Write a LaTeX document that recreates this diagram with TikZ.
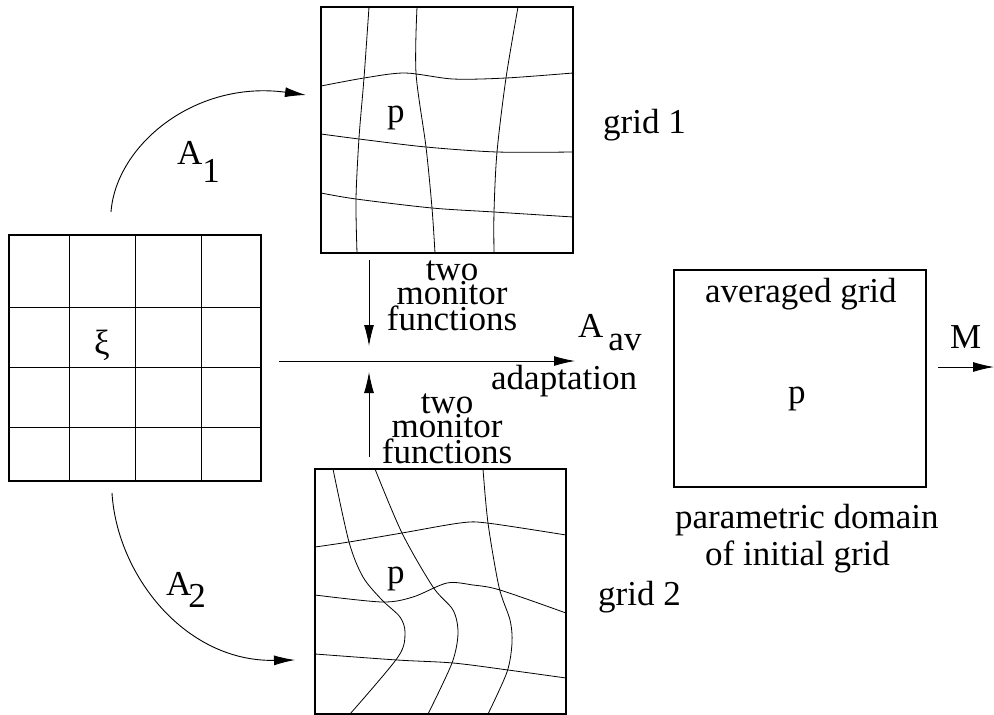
\documentclass[tikz,border=0pt]{standalone}
\usepackage{fontspec}
\setmainfont{Liberation Serif}
\usetikzlibrary{arrows.meta,positioning}

\tikzset{
  frame/.style={line width=1.2pt},
  gridline/.style={line width=0.8pt},
  conn/.style={line width=0.9pt,->},
  lbl/.style={inner sep=0pt, font=\fontsize{35pt}{24pt}\selectfont},
}

\begin{document}
\begin{tikzpicture}[x=1pt,y=-1pt,>={Latex[length=21pt,width=10pt]}]
    \useasboundingbox (0,0) rectangle (994,715);

    % uniform grid
    \draw[frame] (9,235) rectangle (261,481);
    \foreach \x in {69,135,201} \draw[gridline] (\x,235) -- (\x,481);
    \foreach \y in {307,367,427} \draw[gridline] (9,\y) -- (261,\y);
    \node[lbl] (xi) at (102,345) {ξ};

    % grid 1
    \draw[frame] (321,7) rectangle (573,253);
    \draw[gridline] plot[smooth] coordinates {(369,7) (364,78) (359,138) (356,199) (357,253)};
    \draw[gridline] plot[smooth] coordinates {(417,7) (416,73) (426,147) (432,208) (435,253)};
    \draw[gridline] plot[smooth] coordinates {(518,7) (506,78) (497,152) (494,212) (494,253)};
    \draw[gridline] plot[smooth] coordinates {(321,86) (364,78) (405,73) (453,79) (506,78) (573,73)};
    \draw[gridline] plot[smooth] coordinates {(321,134) (359,139) (426,147) (497,152) (573,152)};
    \draw[gridline] plot[smooth] coordinates {(321,193) (356,199) (432,208) (494,212) (573,217)};
    \node[lbl,anchor=base west] (p1) at (387,122) {p};
    \node[lbl,anchor=base west] (g1) at (603,133) {grid 1};

    % grid 2
    \draw[frame] (315,469) rectangle (566,714);
    \draw[gridline] plot[smooth] coordinates {(333,469) (349,542) (363,577) (382,600) (400,617) (405,633) (398,657) (350,714)};
    \draw[gridline] plot[smooth] coordinates {(375,469) (402,533) (433,587) (453,610) (458,633) (452,663) (428,714)};
    \draw[gridline] plot[smooth] coordinates {(483,469) (488,523) (499,587) (510,620) (512,643) (507,672) (488,714)};
    \draw[gridline] plot[smooth] coordinates {(315,547) (349,542) (402,533) (460,523) (487,523) (566,535)};
    \draw[gridline] plot[smooth] coordinates {(315,595) (382,602) (413,597) (447,583) (473,585) (500,590) (566,613)};
    \draw[gridline] plot[smooth] coordinates {(315,654) (397,660) (453,663) (508,670) (566,678)};
    \node[lbl,anchor=base west] (p2) at (387,583) {p};
    \node[lbl,anchor=base west] (g2) at (598,605) {grid 2};

    % averaged grid
    \draw[frame] (674,270) rectangle (926,487);
    \node[lbl,anchor=base west] (avg) at (705,302) {averaged grid};
    \node[lbl,anchor=base west] (p3) at (788,403) {p};
    \node[lbl,anchor=base west] (dom) at (675,528) {parametric domain};
    \node[lbl,anchor=base west] (ini) at (705,565) {of initial grid};

    % maps
    \coordinate (a1s) at (111,212);
    \coordinate (a1e) at (306,95);
    \coordinate (a2s) at (112,493);
    \coordinate (a2e) at (295,660);
    \draw[conn] (a1s) .. controls (116,145) and (195,80) .. (a1e);
    \draw[conn] (a2s) .. controls (117,575) and (185,662) .. (a2e);
    \node[lbl,anchor=base west] (A1) at (177,164) {A\raisebox{-18pt}{1}};
    \node[lbl,anchor=base west] (A2) at (166,595) {A\kern-3pt\raisebox{-12pt}{2}};

    \coordinate (ad1) at (279,361);
    \coordinate (ad2) at (575,361);
    \draw[conn] (ad1) -- (ad2);
    \node[lbl,anchor=base west] (Aav) at (578,337) {A\kern5pt\raisebox{-13pt}{av}};
    \node[lbl,anchor=base west] (adapt) at (491,389) {adaptation};

    \coordinate (mf1) at (369,260);
    \coordinate (mf1e) at (369,346);
    \coordinate (mf2) at (369,457);
    \coordinate (mf2e) at (369,372);
    \draw[conn] (mf1) -- (mf1e);
    \draw[conn] (mf2) -- (mf2e);
    \node[lbl,align=center] (mon1) at (452,296) {two\\monitor\\functions};
    \node[lbl,align=center,font=\fontsize{35pt}{22.5pt}\selectfont] (mon2) at (447,429) {two\\monitor\\functions};

    \coordinate (ms) at (938,367);
    \coordinate (me) at (994,367);
    \draw[conn] (ms) -- (me);
    \node[lbl,anchor=base west] (M) at (950,348) {M};
\end{tikzpicture}
\end{document}
